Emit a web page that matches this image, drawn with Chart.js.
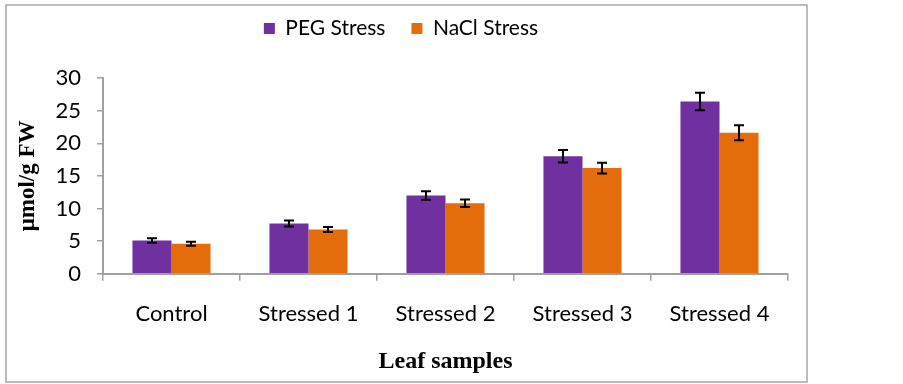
<!DOCTYPE html>
<html>
<head>
<meta charset="utf-8">
<script src="https://cdn.jsdelivr.net/npm/chart.js@4.4.0/dist/chart.umd.min.js"></script>
<style>
html,body{margin:0;padding:0;background:#fff;}
#wrap{width:903px;height:384px;position:relative;}
</style>
</head>
<body>
<div id="wrap"><canvas id="c" width="903" height="384"></canvas></div>
<script>
const categories = ["Control", "Stressed 1", "Stressed 2", "Stressed 3", "Stressed 4"];
const pegValues = [5.1, 7.7, 12.0, 18.0, 26.4];
const pegErrors = [0.35, 0.45, 0.65, 0.95, 1.35];
const naclValues = [4.6, 6.8, 10.8, 16.2, 21.6];
const naclErrors = [0.3, 0.38, 0.58, 0.83, 1.15];
const yTicks = [0, 5, 10, 15, 20, 25, 30];

const errorLists = [pegErrors, naclErrors];

const framePlugin = {
  id: 'frame',
  beforeDraw(chart) {
    const ctx = chart.ctx;
    ctx.save();
    ctx.fillStyle = '#ffffff';
    ctx.fillRect(0, 0, chart.width, chart.height);
    ctx.strokeStyle = '#a6a6a6';
    ctx.lineWidth = 1.5;
    ctx.strokeRect(6, 5, 801, 377);
    ctx.restore();
  }
};

const errorBarPlugin = {
  id: 'errorBars',
  afterDatasetsDraw(chart) {
    const ctx = chart.ctx;
    const y = chart.scales.y;
    ctx.save();
    ctx.strokeStyle = '#000000';
    ctx.lineWidth = 2;
    chart.data.datasets.forEach((ds, di) => {
      const meta = chart.getDatasetMeta(di);
      meta.data.forEach((bar, i) => {
        const v = ds.data[i];
        const e = errorLists[di][i];
        const yt = y.getPixelForValue(v + e);
        const yb = y.getPixelForValue(v - e);
        const x = bar.x;
        const cap = 5;
        ctx.beginPath();
        ctx.moveTo(x, yt); ctx.lineTo(x, yb);
        ctx.moveTo(x - cap, yt); ctx.lineTo(x + cap, yt);
        ctx.moveTo(x - cap, yb); ctx.lineTo(x + cap, yb);
        ctx.stroke();
      });
    });
    ctx.restore();
  }
};

new Chart(document.getElementById('c'), {
  type: 'bar',
  data: {
    labels: categories,
    datasets: [
      { label: 'PEG Stress', data: pegValues, backgroundColor: '#7030A0', borderWidth: 0 },
      { label: 'NaCl Stress', data: naclValues, backgroundColor: '#E46C0A', borderWidth: 0 }
    ]
  },
  options: {
    responsive: false,
    animation: false,
    devicePixelRatio: 1,
    layout: { padding: { left: 14, right: 115, top: -8, bottom: 8 } },
    datasets: { bar: { categoryPercentage: 0.57, barPercentage: 1.0 } },
    plugins: {
      legend: {
        position: 'top',
        labels: {
          boxWidth: 11, boxHeight: 11, padding: 26,
          color: '#000', font: { family: 'Lato', size: 21 }
        }
      },
      subtitle: {
        display: true, text: '', position: 'top', weight: 500,
        font: { size: 10 }, padding: { top: 8, bottom: 9 }
      },
      tooltip: { enabled: false }
    },
    scales: {
      x: {
        grid: { display: true, drawOnChartArea: false, drawTicks: true, tickLength: 7, color: '#a0a0a0', lineWidth: 1.5, offset: true },
        border: { display: true, color: '#a0a0a0', width: 2 },
        ticks: { color: '#000', font: { family: 'Lato', size: 22 }, padding: 20, maxRotation: 0 },
        title: { display: true, text: 'Leaf samples', color: '#000', font: { family: 'Liberation Serif', size: 24, weight: 'bold' }, padding: { top: 0, bottom: 0 } }
      },
      y: {
        min: 0, max: 30,
        afterBuildTicks(scale) { scale.ticks = yTicks.map(v => ({ value: v })); },
        afterFit(scale) { scale.width = 89; },
        grid: { display: true, drawOnChartArea: false, drawTicks: true, tickLength: 6, color: '#a0a0a0', lineWidth: 1.5 },
        border: { display: true, color: '#a0a0a0', width: 2 },
        ticks: { color: '#000', font: { family: 'Lato', size: 22 }, padding: 16 },
        title: { display: true, text: 'μmol/g FW', color: '#000', font: { family: 'Liberation Serif', size: 23, weight: 'bold' }, padding: 0 }
      }
    }
  },
  plugins: [framePlugin, errorBarPlugin]
});
</script>
</body>
</html>
